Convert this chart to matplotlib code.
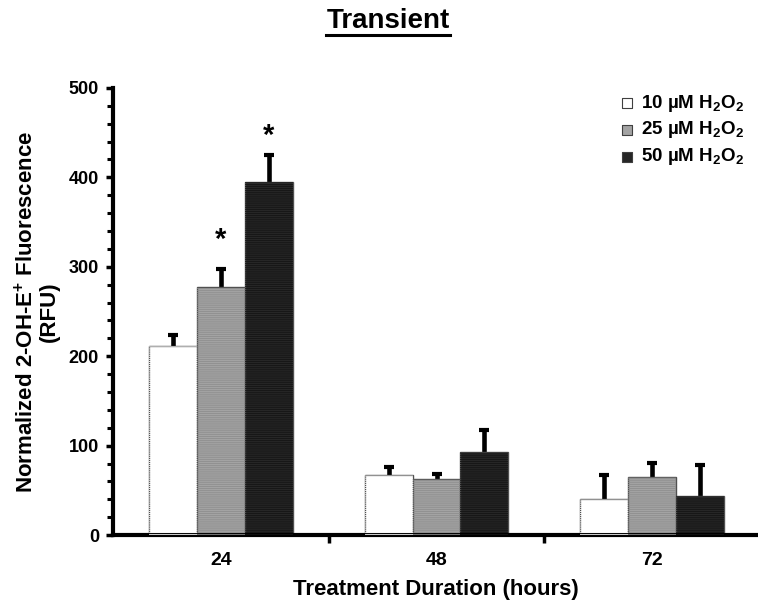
import numpy as np
import matplotlib
matplotlib.use('Agg')
import matplotlib.pyplot as plt
from matplotlib.ticker import MultipleLocator

plt.rcParams['font.family'] = ['Liberation Sans', 'DejaVu Sans']
plt.rcParams['font.weight'] = 'bold'
plt.rcParams['mathtext.fontset'] = 'custom'
plt.rcParams['mathtext.rm'] = 'Liberation Sans:bold'
plt.rcParams['mathtext.bf'] = 'Liberation Sans:bold'
plt.rcParams['hatch.linewidth'] = 0.6

# data
durations = ['24', '48', '72']
series_labels = [r'10 µM H$_\mathbf{2}$O$_\mathbf{2}$',
                 r'25 µM H$_\mathbf{2}$O$_\mathbf{2}$',
                 r'50 µM H$_\mathbf{2}$O$_\mathbf{2}$']
h2o2_10 = [211, 67, 40]
h2o2_25 = [277, 63, 65]
h2o2_50 = [395, 93, 44]
err_10 = [13, 9, 27]
err_25 = [21, 5, 16]
err_50 = [30, 24, 34]
# significance stars: group index, series index, height of the star
star_group = [0, 0]
star_series = [1, 2]
star_height = [341, 457]

values = [h2o2_10, h2o2_25, h2o2_50]
errors = [err_10, err_25, err_50]
fills = ['white', '#a3a3a3', '#262626']
hatch_cols = ['white', '#8e8e8e', '#141414']

fig = plt.figure(figsize=(7.58, 6.06), dpi=100)
ax = fig.add_axes([0.149, 0.117, 0.851, 0.738])

x = np.arange(len(durations))
width = 0.222
offsets = [-width, 0, width]

for vals, errs, fc, hc, off in zip(values, errors, fills, hatch_cols, offsets):
    _, caps, _ = ax.errorbar(x + off, vals, yerr=[np.zeros(len(errs)), errs], fmt='none',
                             ecolor='black', elinewidth=3.3, capsize=3.3, capthick=3,
                             zorder=1)
    caps[0].set_visible(False)  # only the upper half is drawn
    ax.bar(x + off, vals, width, color=fc, edgecolor='#505050', linewidth=1, zorder=2)
    ax.bar(x + off, vals, width, fill=False, hatch='-' * 8, edgecolor=hc,
           linewidth=0, zorder=3)

star_size = 21
for gi, si, sy in zip(star_group, star_series, star_height):
    ax.annotate('*', (x[gi] + offsets[si], sy), xytext=(0, -0.6 * star_size),
                textcoords='offset points', ha='center', va='baseline',
                fontsize=star_size, fontweight='bold')

# legend drawn by hand in axes coordinates
for i, (lab, fc) in enumerate(zip(series_labels, fills)):
    yy = 0.966 - i * 0.060
    ax.scatter([0.797], [yy], marker='s', s=52, color=fc, edgecolor='#404040',
               linewidth=0.8, transform=ax.transAxes, clip_on=False, zorder=5)
    ax.text(0.819, yy, lab, transform=ax.transAxes, ha='left', va='center',
            fontsize=13.5, fontweight='bold')

ax.set_xlim(-0.5, 2.49)
ax.set_ylim(0, 500)
ax.yaxis.set_major_locator(MultipleLocator(100))
ax.yaxis.set_minor_locator(MultipleLocator(20))
ax.set_xticks([0.5, 1.5])
ax.set_xticks(x, minor=True)
ax.set_xticklabels(['', ''])
ax.set_xticklabels(durations, minor=True)
ax.tick_params(axis='x', which='major', length=6, width=2.5, direction='out')
ax.tick_params(axis='x', which='minor', length=0, pad=12, labelsize=14)
ax.tick_params(axis='y', which='major', length=5, width=2.5, direction='out',
               labelsize=13, pad=5)
ax.tick_params(axis='y', which='minor', length=4, width=2.2, direction='out')

for s in ['top', 'right']:
    ax.spines[s].set_visible(False)
for s in ['left', 'bottom']:
    ax.spines[s].set_linewidth(3)

ax.set_xlabel('Treatment Duration (hours)', fontsize=16, fontweight='bold')
ax.xaxis.set_label_coords(0.5, -0.098)
ax.set_ylabel('Normalized 2-OH-E$^\\mathbf{+}$ Fluorescence\n(RFU)', fontsize=16,
              fontweight='bold', linespacing=1.05)
ax.yaxis.set_label_coords(-0.082, 0.5)

title = fig.text(0.512, 0.954, 'Transient', ha='center', va='baseline',
                 fontsize=20, fontweight='bold')
fig.canvas.draw()
bb = title.get_window_extent().transformed(fig.transFigure.inverted())
fig.add_artist(plt.Line2D([bb.x0, bb.x1], [0.942, 0.942],
                          color='black', linewidth=2.2, transform=fig.transFigure))

fig.savefig('out.png', dpi=100)
